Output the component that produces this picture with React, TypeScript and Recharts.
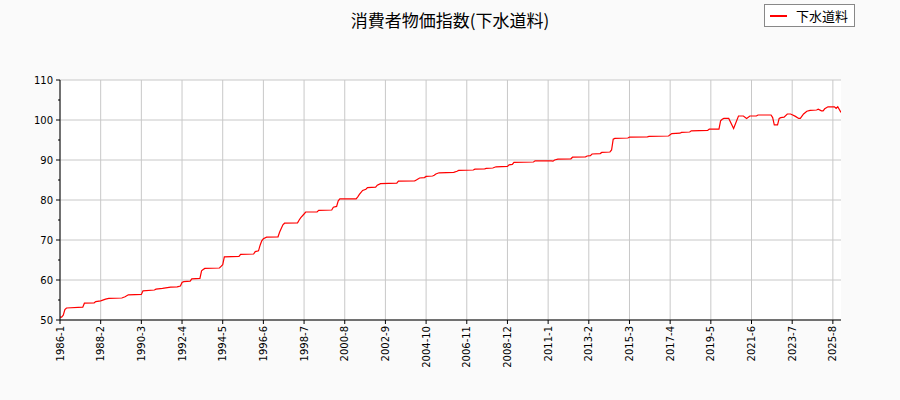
import { LineChart, Line, XAxis, YAxis, CartesianGrid } from "recharts";

const chartTitle = "消費者物価指数(下水道料)";
const seriesName = "下水道料";

// months where the index changes (start year 1986 = index 0)
const changeDates = [
  "1986-1", "1986-2", "1986-3", "1986-4", "1986-5", "1987-3", "1987-4", "1987-10", "1987-11",
  "1988-2", "1988-5", "1988-7", "1989-3", "1989-5", "1989-7", "1990-3", "1990-4", "1990-11",
  "1990-12", "1991-4", "1991-7", "1991-9", "1992-1", "1992-3", "1992-4", "1992-5", "1992-9",
  "1992-10", "1993-3", "1993-4", "1993-5", "1993-6", "1994-3", "1994-4", "1994-5", "1994-6",
  "1995-3", "1995-4", "1995-12", "1996-1", "1996-3", "1996-4", "1996-5", "1996-6", "1996-8",
  "1997-3", "1997-4", "1997-6", "1997-7", "1998-3", "1998-4", "1998-5", "1998-7", "1998-8",
  "1999-3", "1999-4", "1999-12", "2000-1", "2000-3", "2000-4", "2000-5", "2001-3", "2001-4",
  "2001-5", "2001-7", "2001-9", "2001-10", "2002-3", "2002-4", "2002-6", "2003-4", "2003-5",
  "2004-3", "2004-4", "2004-6", "2004-9", "2004-10", "2005-2", "2005-3", "2005-4", "2005-6",
  "2006-3", "2006-5", "2006-6", "2007-3", "2007-4", "2007-10", "2007-11", "2008-3", "2008-5",
  "2008-12", "2009-1", "2009-3", "2009-4", "2010-4", "2010-5", "2011-3", "2011-4", "2011-5",
  "2011-7", "2012-3", "2012-4", "2012-12", "2013-1", "2013-3", "2013-4", "2013-9", "2013-10",
  "2014-3", "2014-4", "2014-5", "2014-6", "2015-2", "2015-3", "2016-2", "2016-3", "2017-3",
  "2017-4", "2017-5", "2017-10", "2017-11", "2018-4", "2018-5", "2019-3", "2019-4", "2019-10",
  "2019-11", "2019-12", "2020-1", "2020-4", "2020-7", "2020-10", "2021-1", "2021-3", "2021-5",
  "2021-9", "2021-10", "2022-6", "2022-7", "2022-8", "2022-10", "2022-11", "2022-12", "2023-2",
  "2023-4", "2023-6", "2023-7", "2023-9", "2023-11", "2023-12", "2024-2", "2024-4", "2024-6",
  "2024-10", "2024-11", "2025-1", "2025-2", "2025-3", "2025-5", "2025-9", "2025-10", "2025-11",
  "2026-1",
];

const indexValues = [
  50.7, 50.7, 51.2, 52.6, 53.0, 53.2, 54.2, 54.3, 54.6,
  54.8, 55.2, 55.4, 55.5, 55.8, 56.3, 56.4, 57.3, 57.5,
  57.7, 57.9, 58.1, 58.2, 58.3, 58.5, 59.4, 59.6, 59.7,
  60.3, 60.4, 62.3, 62.6, 62.9, 63.0, 63.4, 63.8, 65.8,
  65.9, 66.4, 66.5, 67.1, 67.3, 68.7, 69.8, 70.3, 70.7,
  70.8, 72.0, 73.8, 74.2, 74.3, 75.0, 75.6, 76.5, 77.0,
  77.0, 77.4, 77.5, 78.2, 78.4, 79.8, 80.3, 80.3, 80.8,
  81.4, 82.4, 82.7, 83.1, 83.2, 83.7, 84.1, 84.2, 84.7,
  84.8, 85.0, 85.5, 85.6, 85.9, 86.0, 86.2, 86.5, 86.8,
  86.9, 87.2, 87.4, 87.5, 87.7, 87.8, 87.9, 88.0, 88.3,
  88.4, 88.8, 88.9, 89.4, 89.5, 89.8, 89.8, 89.7, 90.0,
  90.2, 90.3, 90.7, 90.8, 91.0, 91.1, 91.5, 91.6, 91.9,
  92.0, 92.5, 95.2, 95.4, 95.5, 95.7, 95.8, 95.9, 96.0,
  96.3, 96.6, 96.7, 96.9, 97.0, 97.3, 97.4, 97.7, 97.7,
  99.8, 100.2, 100.4, 100.4, 97.9, 101.0, 101.0, 100.4, 101.0,
  101.0, 101.25, 101.25, 100.6, 98.8, 98.8, 100.4, 100.6, 100.7,
  101.5, 101.5, 101.3, 100.9, 100.4, 100.4, 101.5, 102.2, 102.4,
  102.5, 102.7, 102.3, 102.3, 102.8, 103.3, 103.3, 102.9, 103.3,
  101.9,
];

const xTickLabels = [
  "1986-1", "1988-2", "1990-3", "1992-4", "1994-5", "1996-6", "1998-7", "2000-8",
  "2002-9", "2004-10", "2006-11", "2008-12", "2011-1", "2013-2", "2015-3", "2017-4",
  "2019-5", "2021-6", "2023-7", "2025-8",
];
const yTicks = [50, 55, 60, 65, 70, 75, 80, 85, 90, 95, 100, 105, 110];
const yGridValues = [50, 60, 70, 80, 90, 100, 110];
const lastMonth = "2026-1";

function monthIndex(d: string): number {
  const [y, m] = d.split("-").map(Number);
  return (y - 1986) * 12 + m - 1;
}

function monthLabel(i: number): string {
  return `${1986 + Math.floor(i / 12)}-${(i % 12) + 1}`;
}

const data = changeDates.map((d, i) => ({ m: monthIndex(d), v: indexValues[i] }));
const xTicks = xTickLabels.map(monthIndex);

const tickFont = "'DejaVu Sans', sans-serif";
const cjkFont = "'Noto Sans CJK JP', 'DejaVu Sans', sans-serif";

// eslint-disable-next-line @typescript-eslint/no-explicit-any
function XTick({ x, y, payload }: any) {
  return (
    <text
      transform={`translate(${x},${y}) rotate(-90)`}
      textAnchor="end"
      dy="0.35em"
      fontSize={10}
      fontFamily={tickFont}
      fill="#000"
    >
      {monthLabel(payload.value)}
    </text>
  );
}

// eslint-disable-next-line @typescript-eslint/no-explicit-any
function YTick({ x, y, payload }: any) {
  const major = payload.value % 10 === 0;
  const axisX = x + 7;
  return (
    <g>
      <line x1={axisX} x2={axisX - (major ? 4 : 2)} y1={y} y2={y} stroke="#000" strokeWidth={1} />
      {major && (
        <text x={x} y={y} dy="0.35em" textAnchor="end" fontSize={10} fontFamily={tickFont} fill="#000">
          {payload.value}
        </text>
      )}
    </g>
  );
}

function LegendBox() {
  return (
    <div
      style={{
        position: "absolute",
        top: 4,
        left: 764,
        boxSizing: "border-box",
        width: 91,
        height: 23,
        border: "1px solid #888",
        background: "#fff",
        display: "flex",
        alignItems: "center",
        paddingLeft: 5,
      }}
    >
      <span style={{ display: "inline-block", width: 17, height: 2, background: "#ff0000" }} />
      <span style={{ marginLeft: 9, fontSize: 13, fontFamily: cjkFont, color: "#000" }}>{seriesName}</span>
    </div>
  );
}

export default function App() {
  return (
    <div
      style={{
        position: "absolute",
        left: 0,
        top: 0,
        width: 900,
        height: 400,
        background: "#fafafa",
      }}
    >
      <div
        style={{
          position: "absolute",
          top: 7,
          left: 0,
          width: 900,
          textAlign: "center",
          fontSize: 17,
          fontFamily: cjkFont,
          color: "#000",
        }}
      >
        {chartTitle}
      </div>
      <LineChart
        width={900}
        height={400}
        data={data}
        margin={{ top: 80, right: 59, left: 0, bottom: 0 }}
      >
        <CartesianGrid
          fill="#fff"
          stroke="#c8c8c8"
          strokeWidth={1}
          horizontalValues={yGridValues}
          verticalValues={xTicks}
        />
        <XAxis
          dataKey="m"
          type="number"
          domain={[0, monthIndex(lastMonth)]}
          ticks={xTicks}
          interval={0}
          height={80}
          tickSize={4}
          tickMargin={2}
          tick={<XTick />}
          axisLine={{ stroke: "#000" }}
          tickLine={{ stroke: "#000" }}
          allowDataOverflow
        />
        <YAxis
          type="number"
          domain={[50, 110]}
          ticks={yTicks}
          interval={0}
          width={60}
          tickSize={4}
          tickMargin={3}
          tick={<YTick />}
          axisLine={{ stroke: "#000" }}
          tickLine={false}
          allowDataOverflow
        />
        <Line
          dataKey="v"
          name={seriesName}
          stroke="#ff0000"
          strokeWidth={1.2}
          dot={false}
          type="linear"
          isAnimationActive={false}
        />
      </LineChart>
      <LegendBox />
    </div>
  );
}
